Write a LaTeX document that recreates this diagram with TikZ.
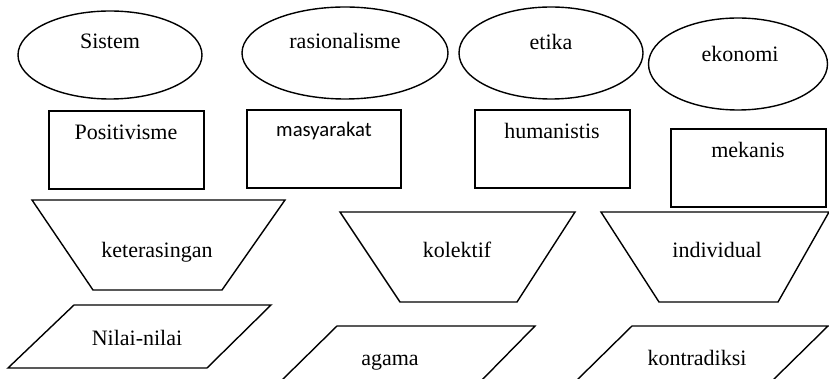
\documentclass[tikz,border=0pt]{standalone}
\usepackage{fontspec}
\setmainfont{Liberation Serif}
\newfontfamily\calib{Carlito}
\begin{document}
\begin{tikzpicture}[x=1pt,y=-1pt,
  shp/.style={draw=black,line width=1.4pt,line join=miter},
  lbl/.style={anchor=base,inner sep=0pt,font=\fontsize{22}{24}\selectfont},
  lbls/.style={anchor=base,inner sep=0pt,font=\calib\fontsize{20.7}{23}\selectfont}]
\useasboundingbox (0,0) rectangle (829,379);
% ellipses
\draw[shp] (110,55) ellipse [x radius=92,y radius=44];
\draw[shp] (345,53) ellipse [x radius=103,y radius=46];
\draw[shp] (551,53) ellipse [x radius=92,y radius=46];
\draw[shp] (738,64) ellipse [x radius=89.5,y radius=46];
\node[lbl] (sistem) at (110,49) {Sistem};
\node[lbl] (rasio) at (345,49) {rasionalisme};
\node[lbl] (etika) at (551,50) {etika};
\node[lbl] (ekonomi) at (740,62) {ekonomi};
% rectangles
\draw[shp] (49,111) rectangle (204,189);
\draw[shp] (247,110) rectangle (401,188);
\draw[shp] (475,110) rectangle (630,188);
\draw[shp] (671,129) rectangle (826,207);
\node[lbl] (posit) at (126,140) {Positivisme};
\node[lbls] (masy) at (324,137) {masyarakat};
\node[lbl] (human) at (552,139) {humanistis};
\node[lbl] (mekan) at (748,158) {mekanis};
% trapezoids
\draw[shp] (32,200) -- (285,200) -- (222,290) -- (93,290) -- cycle;
\draw[shp] (340,212) -- (575,212) -- (517,302) -- (400,302) -- cycle;
\draw[shp] (601,212) -- (829,212) -- (778,302) -- (659,302) -- cycle;
\node[lbl] (keter) at (157,257) {keterasingan};
\node[lbl] (kolek) at (457,258) {kolektif};
\node[lbl] (indiv) at (717,258) {individual};
% parallelograms
\draw[shp] (74,305) -- (271,305) -- (207,368) -- (8,368) -- cycle;
\begin{scope}
\clip (0,0) rectangle (829,379);
\draw[shp] (337,326) -- (535,326) -- (480,382) -- (280,382) -- cycle;
\draw[shp] (632,326) -- (828,326) -- (771,382) -- (575,382) -- cycle;
\end{scope}
\node[lbl] (nilai) at (137,345) {Nilai-nilai};
\node[lbl] (agama) at (390,365) {agama};
\node[lbl] (kontra) at (697,365) {kontradiksi};
\end{tikzpicture}
\end{document}
